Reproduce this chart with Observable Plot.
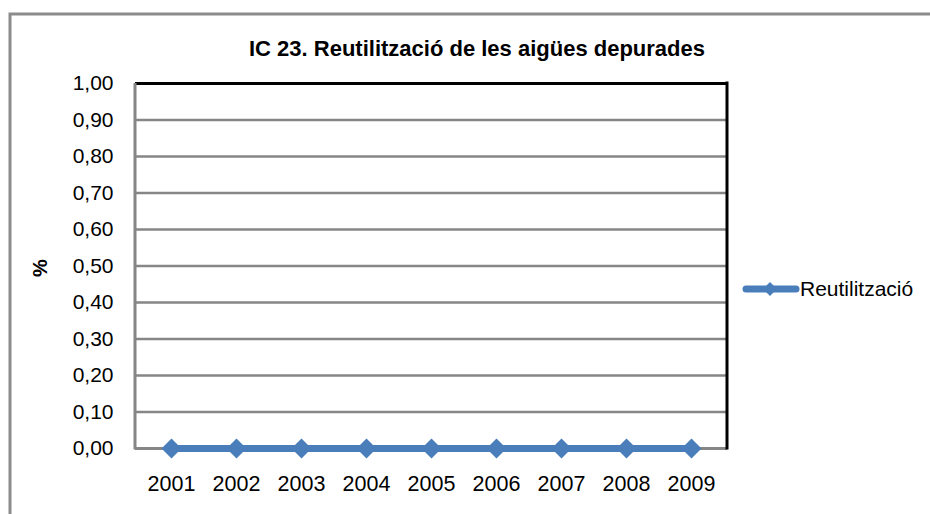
<!DOCTYPE html>
<html>
<head>
<meta charset="utf-8">
<script src="https://cdn.jsdelivr.net/npm/d3@7"></script>
<script src="https://cdn.jsdelivr.net/npm/@observablehq/plot@0.6"></script>
<style>
  html, body { margin: 0; padding: 0; background: #fff; }
</style>
</head>
<body>
<div id="chart"></div>
<script>
const years = ["2001","2002","2003","2004","2005","2006","2007","2008","2009"];
const reutilitzacio = [0, 0, 0, 0, 0, 0, 0, 0, 0];
const yTicks = [0, 0.1, 0.2, 0.3, 0.4, 0.5, 0.6, 0.7, 0.8, 0.9, 1.0];
const titleText = "IC 23. Reutilització de les aigües depurades";
const yLabel = "%";
const seriesName = "Reutilització";

const data = years.map((y, i) => ({year: y, value: reutilitzacio[i]}));
const blue = "#4a7ebb";
const grid = "#868686";
const fmt = d => d.toFixed(2).replace(".", ",");

const chart = Plot.plot({
  width: 930,
  height: 514,
  marginLeft: 135,
  marginRight: 203,
  marginTop: 83,
  marginBottom: 66,
  style: {fontFamily: "'Liberation Sans', Arial, sans-serif", fontSize: "21px", background: "#fff", color: "#000", overflow: "visible"},
  x: {type: "point", domain: years, padding: 0.5, label: null},
  y: {domain: [0, 1], label: null},
  marks: [
    Plot.ruleY(yTicks.filter(d => d > 0 && d < 1), {stroke: grid, strokeWidth: 2.5}),
    Plot.ruleY([0], {stroke: grid, strokeWidth: 3}),
    Plot.ruleY([1], {stroke: "#000", strokeWidth: 3}),
    Plot.axisY({ticks: yTicks, tickFormat: fmt, tickSize: 0, tickPadding: 22, fontSize: 21, label: null}),
    Plot.axisX({tickSize: 0, tickPadding: 27, fontSize: 21.5, label: null}),
    Plot.line(data, {x: "year", y: "value", stroke: blue, strokeWidth: 7}),
    Plot.dot(data, {x: "year", y: "value", symbol: "square", r: 8, rotate: 45, fill: blue, stroke: "none"})
  ]
});

document.getElementById("chart").appendChild(chart);

const svg = d3.select(chart);
const xr = [135, 930 - 203];
const yr = [83, 514 - 66];

// left (gray) and right (black) plot borders
svg.append("line").attr("x1", xr[0]).attr("x2", xr[0]).attr("y1", yr[0]).attr("y2", yr[1] + 1.5)
  .attr("stroke", grid).attr("stroke-width", 3);
svg.append("line").attr("x1", xr[1]).attr("x2", xr[1]).attr("y1", yr[0] - 1.5).attr("y2", yr[1] + 1.5)
  .attr("stroke", "#000").attr("stroke-width", 3);

// outer chart border
svg.append("rect").attr("x", 10).attr("y", 14).attr("width", 940).attr("height", 520)
  .attr("fill", "none").attr("stroke", "#8c8c8c").attr("stroke-width", 3);

// title
svg.append("text").attr("x", 477).attr("y", 48).attr("text-anchor", "middle").attr("dy", "0.35em")
  .attr("font-weight", "bold").attr("font-size", 22).attr("fill", "#000").text(titleText);

// y label
svg.append("text").attr("transform", "translate(40,268) rotate(-90)").attr("text-anchor", "middle").attr("dy", "0.35em")
  .attr("font-weight", "bold").attr("font-size", 20).attr("fill", "#000").text(yLabel);

// legend
const lg = svg.append("g");
lg.append("line").attr("x1", 746).attr("x2", 796).attr("y1", 289).attr("y2", 289)
  .attr("stroke", blue).attr("stroke-width", 7).attr("stroke-linecap", "round");
lg.append("rect").attr("x", -5).attr("y", -5).attr("width", 10).attr("height", 10)
  .attr("transform", "translate(770,289) rotate(45)").attr("fill", blue);
lg.append("text").attr("x", 800).attr("y", 289).attr("dy", "0.35em").attr("font-size", 21)
  .attr("text-anchor", "start").attr("fill", "#000").text(seriesName);
</script>
</body>
</html>
